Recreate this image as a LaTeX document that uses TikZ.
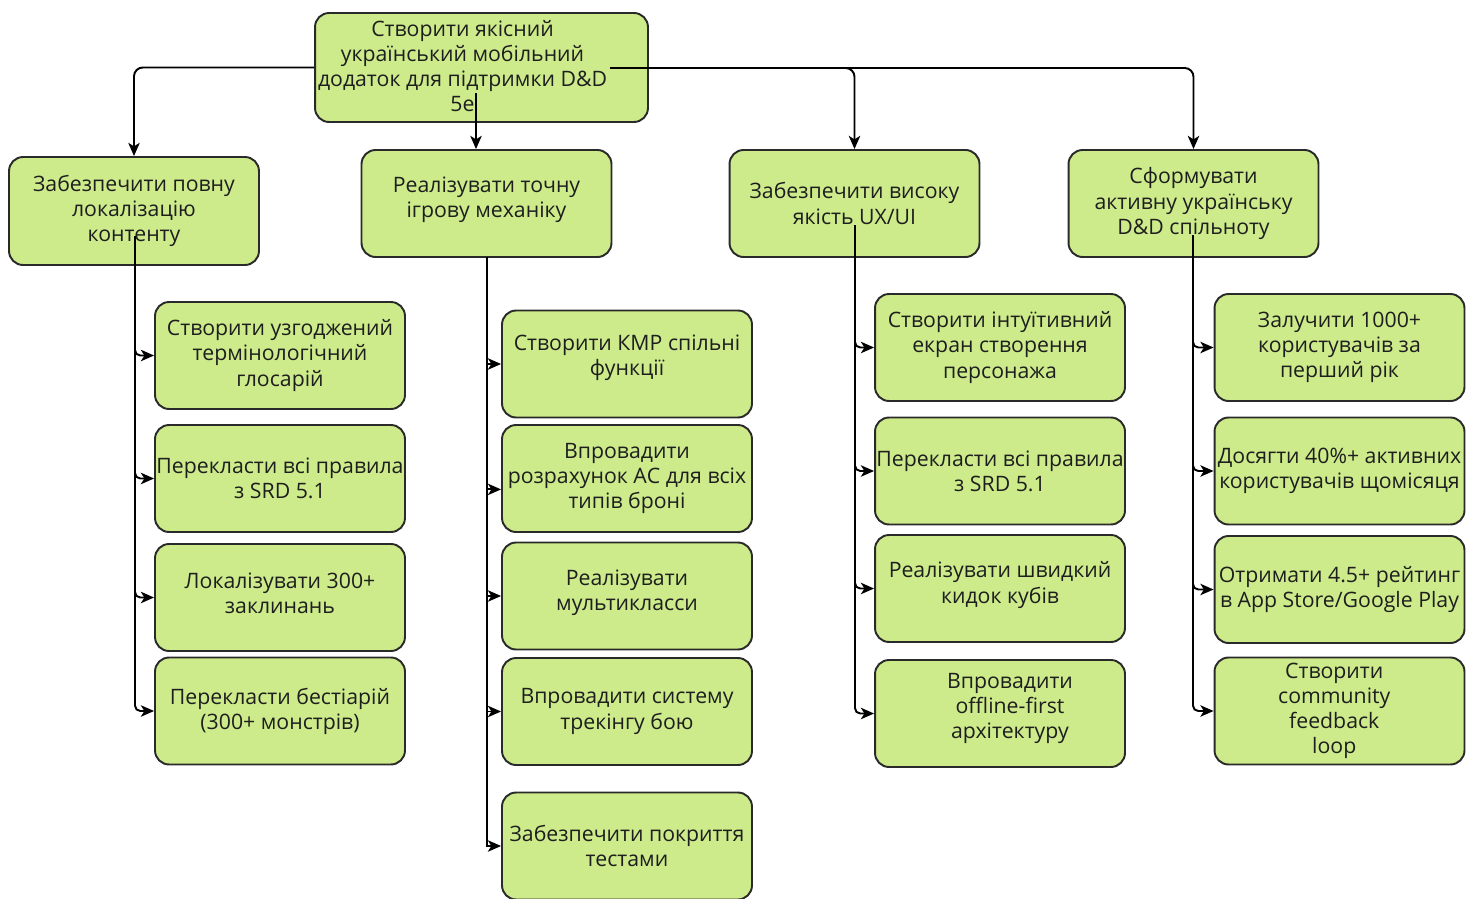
\documentclass[tikz,border=0pt]{standalone}
\usepackage{fontspec}
\setmainfont{Open Sans}
\usetikzlibrary{arrows.meta}
\definecolor{boxfill}{HTML}{CDEB8B}
\definecolor{boxline}{HTML}{2A2A2A}
\definecolor{txt}{HTML}{1E1E1E}
\begin{document}
\begin{tikzpicture}[x=0.02cm,y=-0.02cm,
  lab/.style={inner sep=0pt,align=center,text=txt,font=\fontsize{12.1}{14.3}\selectfont},
  box/.style={draw=boxline,line width=1.1pt,fill=boxfill,rounded corners=8pt,
    minimum width=5cm,minimum height=2.14cm,inner sep=0pt,lab},
  rootbox/.style={box,minimum width=6.66cm,minimum height=2.18cm},
  conn/.style={draw=black,line width=1.1pt,-{Stealth[length=7.5pt,width=6.5pt,inset=2pt]}},
  rc/.style={rounded corners=3pt},
  rr/.style={rounded corners=5pt}]
\useasboundingbox (0,0) rectangle (1474,899);

% root
\node[rootbox,label={[lab,xshift=-10.8pt,yshift=0.8pt]center:{Створити якісний\\ український мобільний\\ додаток для підтримки D\&D\\ 5e}}] (root) at (481.5,67.5) {};

% level 2
\node[box,minimum height=2.16cm] (b1) at (134,211) {Забезпечити повну\\ локалізацію\\ контенту};
\node[box,label={[lab,yshift=2pt]center:{Реалізувати точну\\ ігрову механіку}}] (b2) at (486.5,203.5) {};
\node[box] (b3) at (854.5,203.5) {Забезпечити високу\\ якість UX/UI};
\node[box] (b4) at (1193.5,203.5) {Сформувати\\ активну українську\\ D\&D спільноту};

% column 1
\node[box] (c11) at (280,355.5) {Створити узгоджений\\ термінологічний\\ глосарій};
\node[box] (c12) at (280,478.5) {Перекласти всі правила\\ з SRD 5.1};
\node[box,label={[lab,yshift=2.5pt]center:{Локалізувати 300+\\ заклинань}}] (c13) at (280,597.5) {};
\node[box] (c14) at (280,711) {Перекласти бестіарій\\ (300+ монстрів)};

% column 2
\node[box,label={[lab,yshift=3.5pt]center:{Створити КМР спільні\\ функції}}] (c21) at (627,364) {};
\node[box] (c22) at (627,478.5) {Впровадити\\ розрахунок АС для всіх\\ типів броні};
\node[box,label={[lab,yshift=2pt]center:{Реалізувати\\ мультикласси}}] (c23) at (627,596) {};
\node[box] (c24) at (627,711.5) {Впровадити систему\\ трекінгу бою};
\node[box] (c25) at (627,846) {Забезпечити покриття\\ тестами};

% column 3
\node[box] (c31) at (1000,347.5) {Створити інтуїтивний\\ екран створення\\ персонажа};
\node[box] (c32) at (1000,471) {Перекласти всі правила\\ з SRD 5.1};
\node[box,label={[lab,yshift=2pt]center:{Реалізувати швидкий\\ кидок кубів}}] (c33) at (1000,588.5) {};
\node[box,label={[lab,xshift=5.7pt,yshift=3pt]center:{Впровадити\\ offline-first\\ архітектуру}}] (c34) at (1000,713.5) {};

% column 4
\node[box] (c41) at (1339.5,347.5) {Залучити 1000+\\ користувачів за\\ перший рік};
\node[box] (c42) at (1339.5,471) {Досягти 40\%+ активних\\ користувачів щомісяця};
\node[box] (c43) at (1339.5,589.5) {Отримати 4.5+ рейтинг\\ в App Store/Google Play};
\node[box,label={[lab,xshift=-3pt]center:{Створити\\ community\\ feedback\\ loop}}] (c44) at (1339.5,711) {};

% connector start points
\coordinate (rd) at (476,93);
\coordinate (rr0) at (610,68);
\coordinate (s1) at (135,236);
\coordinate (s2) at (487,257);
\coordinate (s3) at (855,225);
\coordinate (s4) at (1193,235);

% root connectors
\draw[conn,rr] (root.west) -| (b1.north);
\draw[conn] (rd) -- (rd |- b2.north);
\draw[conn,rr] (rr0) -| (b3.north);
\draw[conn,rr] (rr0) -| (b4.north);

% column 1 connectors
\foreach \c in {c11,c12,c13,c14}{\draw[conn,rc] (s1) |- (\c.west);}
% column 2 connectors
\foreach \c in {c21,c23,c24,c25}{\draw[conn] (s2) |- (\c.west);}
\draw[conn] (s2) |- ([yshift=-6.2pt]c22.west);
% column 3 connectors
\foreach \c in {c31,c32,c33,c34}{\draw[conn,rc] (s3) |- (\c.west);}
% column 4 connectors
\foreach \c in {c41,c42,c43,c44}{\draw[conn,rc] (s4) |- (\c.west);}
\end{tikzpicture}
\end{document}
